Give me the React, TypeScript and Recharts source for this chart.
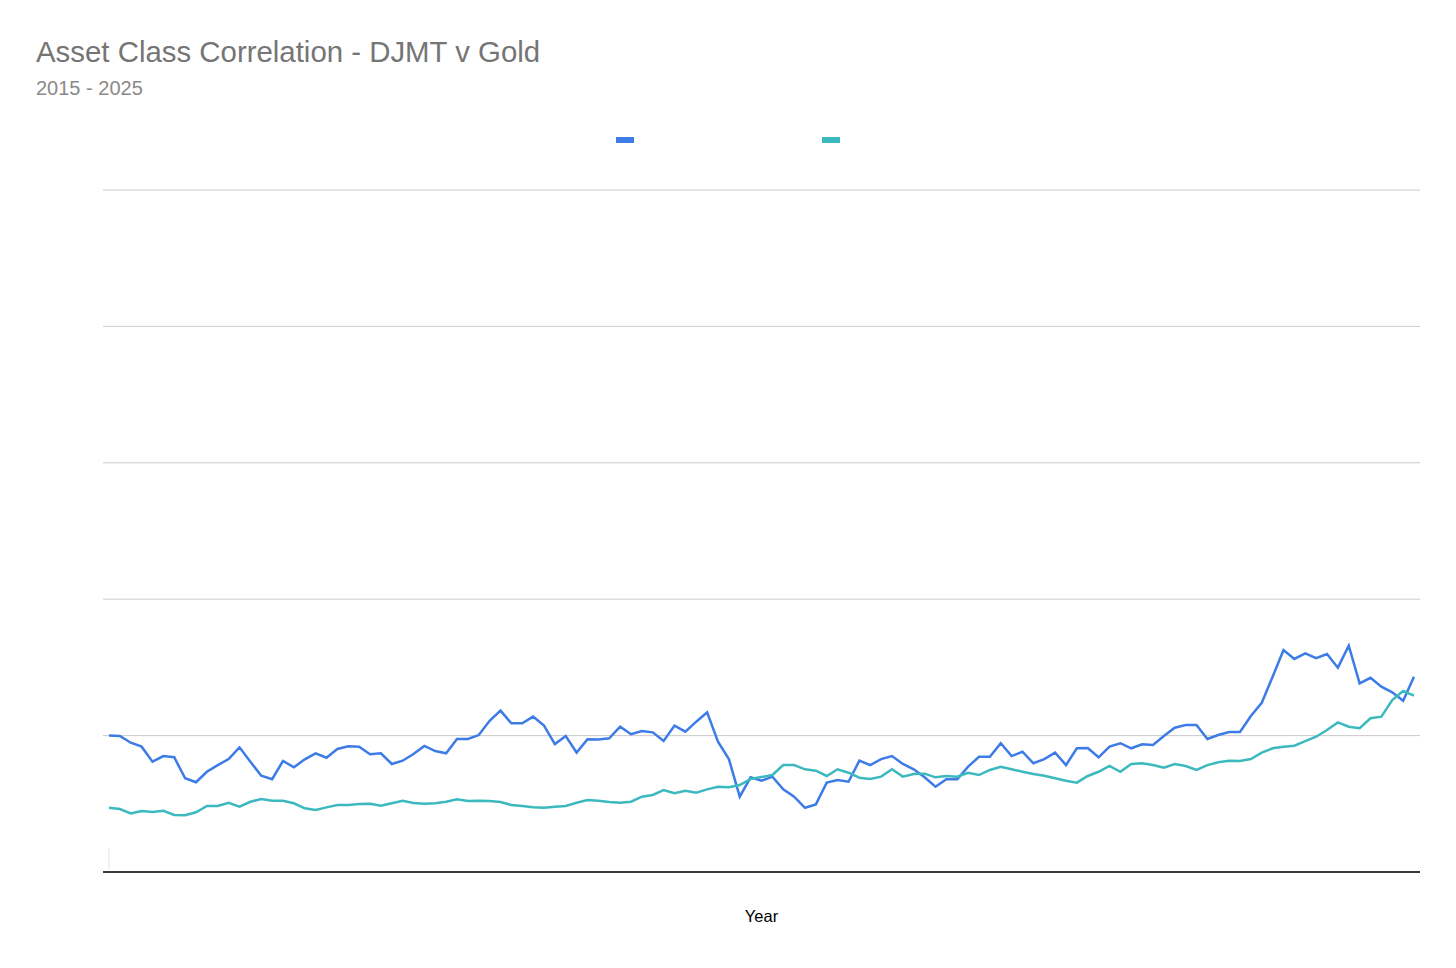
import { LineChart, Line, XAxis, YAxis, CartesianGrid, ReferenceLine } from 'recharts'

// monthly points, Jan 2015 .. Jan 2025
const months = Array.from(
  { length: 121 },
  (_, i) => `${2015 + Math.floor(i / 12)}-${String((i % 12) + 1).padStart(2, '0')}`
)

const djmt = [
  1.0, 0.997, 0.948, 0.919, 0.809, 0.85, 0.841, 0.687, 0.658, 0.735,
  0.784, 0.828, 0.914, 0.809, 0.706, 0.68, 0.814, 0.768, 0.826, 0.87,
  0.838, 0.902, 0.922, 0.919, 0.863, 0.87, 0.792, 0.816, 0.865, 0.924,
  0.887, 0.87, 0.975, 0.975, 1.004, 1.109, 1.183, 1.09, 1.09, 1.139,
  1.073, 0.938, 0.997, 0.875, 0.973, 0.971, 0.98, 1.065, 1.01, 1.034,
  1.024, 0.96, 1.073, 1.029, 1.102, 1.171, 0.955, 0.828, 0.552, 0.694,
  0.669, 0.699, 0.606, 0.552, 0.471, 0.496, 0.655, 0.674, 0.662, 0.816,
  0.784, 0.828, 0.85, 0.792, 0.753, 0.694, 0.625, 0.68, 0.68, 0.772,
  0.845, 0.845, 0.944, 0.85, 0.882, 0.797, 0.828, 0.875, 0.784, 0.907,
  0.909, 0.841, 0.919, 0.944, 0.907, 0.936, 0.931, 0.997, 1.058, 1.078,
  1.078, 0.975, 1.004, 1.026, 1.026, 1.144, 1.241, 1.432, 1.628, 1.562,
  1.603, 1.567, 1.598, 1.498, 1.659, 1.383, 1.424, 1.359, 1.317, 1.256,
  1.432,
]

const gold = [
  0.471, 0.462, 0.43, 0.447, 0.44, 0.449, 0.418, 0.416, 0.438, 0.484,
  0.484, 0.508, 0.479, 0.515, 0.535, 0.523, 0.523, 0.504, 0.467, 0.455,
  0.474, 0.491, 0.491, 0.499, 0.501, 0.486, 0.504, 0.523, 0.506, 0.501,
  0.504, 0.515, 0.533, 0.521, 0.523, 0.521, 0.513, 0.491, 0.484, 0.474,
  0.471, 0.479, 0.484, 0.508, 0.528, 0.522, 0.513, 0.508, 0.515, 0.552,
  0.565, 0.601, 0.577, 0.596, 0.581, 0.606, 0.625, 0.621, 0.638, 0.682,
  0.696, 0.711, 0.784, 0.784, 0.753, 0.743, 0.704, 0.753, 0.728, 0.691,
  0.682, 0.699, 0.753, 0.699, 0.718, 0.721, 0.694, 0.704, 0.699, 0.728,
  0.711, 0.748, 0.772, 0.753, 0.735, 0.718, 0.706, 0.687, 0.669, 0.655,
  0.704, 0.735, 0.777, 0.735, 0.792, 0.797, 0.784, 0.765, 0.792, 0.777,
  0.748, 0.784, 0.804, 0.816, 0.814, 0.828, 0.875, 0.907, 0.919, 0.926,
  0.96, 0.992, 1.041, 1.097, 1.065, 1.054, 1.127, 1.139, 1.261, 1.327,
  1.293,
]

const yTicks = [0, 1, 2, 3, 4, 5]

const series = [
  { key: 'djmt', name: 'DJMT', color: '#3d7be6' },
  { key: 'gold', name: 'Gold', color: '#3cb9be' },
]

const data = months.map((month, i) => ({ month, djmt: djmt[i], gold: gold[i] }))

const font = '"Liberation Sans", Arial, sans-serif'

export default function App() {
  return (
    <div style={{ position: 'relative', width: 1440, height: 950, fontFamily: font }}>
      <div
        style={{
          position: 'absolute',
          left: 28,
          top: 29,
          fontSize: 29.4,
          lineHeight: '29px',
          color: '#757575',
          whiteSpace: 'nowrap',
        }}
      >
        Asset Class Correlation - DJMT v Gold
      </div>
      <div
        style={{
          position: 'absolute',
          left: 28,
          top: 70,
          fontSize: 20,
          lineHeight: '20px',
          color: '#8a8a8a',
        }}
      >
        2015 - 2025
      </div>

      {/* legend swatches only, the labels are not shown in the original */}
      {series.map((s, i) => (
        <div
          key={s.key}
          title={s.name}
          style={{
            position: 'absolute',
            left: 608 + i * 206,
            top: 129,
            width: 18,
            height: 6,
            background: s.color,
          }}
        />
      ))}

      <div style={{ position: 'absolute', left: 0, top: 0 }}>
        <LineChart
          width={1440}
          height={950}
          data={data}
          margin={{ top: 182, right: 28, left: 95, bottom: 26 }}
        >
          <CartesianGrid vertical={false} stroke="#cccccc" />
          <XAxis
            dataKey="month"
            height={60}
            tick={false}
            tickLine={false}
            axisLine={{ stroke: '#000000', strokeWidth: 1.3 }}
            padding={{ left: 6, right: 6 }}
            label={{
              value: 'Year',
              position: 'insideBottom',
              offset: 10,
              fill: '#000000',
              fontSize: 16.5,
              fontFamily: font,
            }}
          />
          <YAxis hide domain={[0, 5]} ticks={yTicks} />
          <ReferenceLine
            segment={[
              { x: months[0], y: 0.015 },
              { x: months[0], y: 0.176 },
            ]}
            stroke="#e4e4e4"
          />
          {series.map((s) => (
            <Line
              key={s.key}
              type="linear"
              dataKey={s.key}
              name={s.name}
              stroke={s.color}
              strokeWidth={2.5}
              dot={false}
              activeDot={false}
              isAnimationActive={false}
            />
          ))}
        </LineChart>
      </div>
    </div>
  )
}
